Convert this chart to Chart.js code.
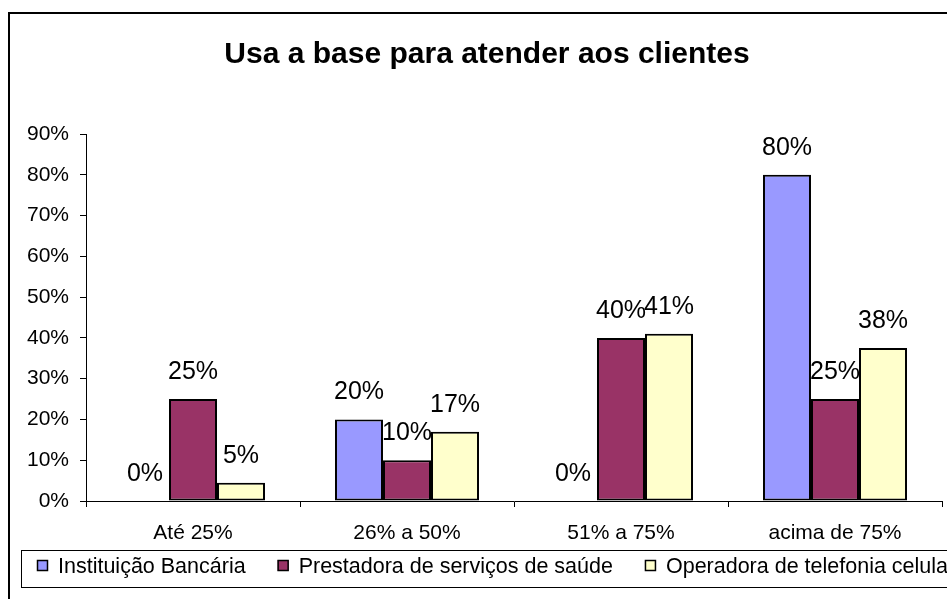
<!DOCTYPE html>
<html>
<head>
<meta charset="utf-8">
<script src="https://cdn.jsdelivr.net/npm/chart.js@4/dist/chart.umd.min.js"></script>
<style>
html,body{margin:0;padding:0;background:#fff;overflow:hidden;}
canvas{display:block;}
</style>
</head>
<body>
<canvas id="c" width="947" height="599"></canvas>
<script>
const chartTitle = "Usa a base para atender aos clientes";
const categories = ["Até 25%", "26% a 50%", "51% a 75%", "acima de 75%"];
const seriesNames = ["Instituição Bancária", "Prestadora de serviços de saúde", "Operadora de telefonia celular"];
const bancaria = [0, 20, 0, 80];
const saude = [25, 10, 40, 25];
const telefonia = [4.5, 17, 41, 37.5];
const yTicks = [0, 10, 20, 30, 40, 50, 60, 70, 80, 90];
const colors = ["#9999FF", "#993366", "#FFFFCC"];

const FONT = '"Liberation Sans", Arial, sans-serif';
Chart.defaults.font.family = FONT;
Chart.defaults.color = '#000';

const frame = {
  id: 'frame',
  beforeDraw(chart) {
    const ctx = chart.ctx;
    ctx.save();
    ctx.fillStyle = '#fff';
    ctx.fillRect(0, 0, chart.width, chart.height);
    ctx.strokeStyle = '#000';
    ctx.lineWidth = 2;
    ctx.strokeRect(9, 13, 1200, 1200);
    ctx.fillStyle = '#000';
    ctx.font = 'bold 30px ' + FONT;
    ctx.textAlign = 'center';
    ctx.textBaseline = 'alphabetic';
    ctx.fillText(chartTitle, 487, 63);
    ctx.restore();
  },
  afterDatasetsDraw(chart) {
    const ctx = chart.ctx;
    ctx.save();
    ctx.fillStyle = '#000';
    ctx.font = '25px ' + FONT;
    ctx.textAlign = 'center';
    ctx.textBaseline = 'alphabetic';
    chart.data.datasets.forEach((ds, i) => {
      chart.getDatasetMeta(i).data.forEach((bar, j) => {
        ctx.fillText(Math.round(ds.data[j]) + '%', bar.x, bar.y - 20);
      });
    });
    ctx.restore();
  },
  afterDraw(chart) {
    const ctx = chart.ctx;
    ctx.save();
    ctx.strokeStyle = '#000';
    ctx.lineWidth = 1;
    ctx.strokeRect(21.5, 550.5, 1200, 37);
    ctx.font = '21.5px ' + FONT;
    ctx.textBaseline = 'alphabetic';
    ctx.textAlign = 'left';
    let x = 37;
    chart.data.datasets.forEach((ds, i) => {
      ctx.fillStyle = ds.backgroundColor;
      ctx.fillRect(x, 560, 11, 11);
      ctx.strokeStyle = '#000';
      ctx.lineWidth = 1.5;
      ctx.strokeRect(x + 0.5, 560.5, 10, 10);
      ctx.fillStyle = '#000';
      ctx.fillText(ds.label, x + 21, 573);
      x += 21 + ctx.measureText(ds.label).width + 32;
    });
    ctx.restore();
  }
};

new Chart(document.getElementById('c'), {
  type: 'bar',
  data: {
    labels: categories,
    datasets: [
      { label: seriesNames[0], data: bancaria, backgroundColor: colors[0] },
      { label: seriesNames[1], data: saude, backgroundColor: colors[1] },
      { label: seriesNames[2], data: telefonia, backgroundColor: colors[2] }
    ].map(d => Object.assign(d, { borderColor: '#000', borderWidth: 2, borderSkipped: false }))
  },
  options: {
    responsive: false,
    animation: false,
    devicePixelRatio: 1,
    layout: { padding: { left: 0, right: 5, top: 134, bottom: 0 } },
    datasets: { bar: { categoryPercentage: 0.673, barPercentage: 1 } },
    plugins: {
      legend: { display: false },
      title: { display: false },
      tooltip: { enabled: false }
    },
    scales: {
      x: {
        grid: { offset: true, drawOnChartArea: false, drawTicks: true, tickLength: 6, color: '#000' },
        border: { color: '#000', width: 1 },
        ticks: { font: { size: 21 }, color: '#000', padding: 14, maxRotation: 0 },
        afterFit(s) { s.height = 98; }
      },
      y: {
        min: 0, max: 90,
        afterBuildTicks(s) { s.ticks = yTicks.map(v => ({ value: v })); },
        grid: { drawOnChartArea: false, drawTicks: true, tickLength: 6, color: '#000' },
        border: { color: '#000', width: 1 },
        ticks: { font: { size: 21 }, color: '#000', padding: 11, callback: v => v + '%' },
        afterFit(s) { s.width = 86; }
      }
    }
  },
  plugins: [frame]
});
</script>
</body>
</html>
